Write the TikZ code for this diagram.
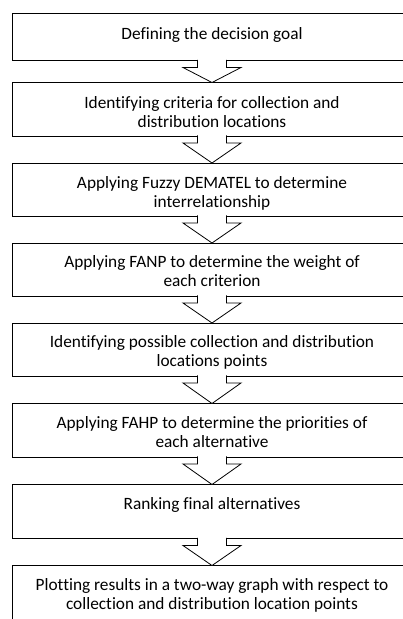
\documentclass[tikz,border=0pt]{standalone}
\usepackage{fontspec}
\setmainfont[Ligatures=NoCommon]{Carlito}
\usetikzlibrary{calc}
\begin{document}
\begin{tikzpicture}[x=1pt,y=-1pt,
  box/.style={draw=black, line width=0.8pt, rectangle, minimum width=400pt, inner sep=0pt, outer sep=0pt},
  lbl/.style={anchor=base, inner sep=0pt, outer sep=0pt, font=\fontsize{17.3pt}{19.4pt}\selectfont},
  blockarrow/.style={draw=black, fill=white, line width=0.8pt, line join=miter}]
\useasboundingbox (0,0) rectangle (403,619);
\fill[white] (0,0) rectangle (403,619);
% boxes
\node[box, minimum height=47pt]   (b1) at (212,37)    {};
\node[box, minimum height=53.5pt] (b2) at (212,109.25) {};
\node[box, minimum height=53pt]   (b3) at (212,189.5) {};
\node[box, minimum height=53pt]   (b4) at (212,269.5) {};
\node[box, minimum height=53pt]   (b5) at (212,349.5) {};
\node[box, minimum height=53.5pt] (b6) at (212,430.25) {};
\node[box, minimum height=54pt]   (b7) at (212,511.5) {};
\node[box, minimum height=80pt]   (b8) at (212,605.5) {};
% texts
\node[lbl] (t1) at ($(b1.north)+(0,25.5)$) {\parbox[t]{395pt}{\centering Defining the decision goal}};
\node[lbl] (t2) at ($(b2.north)+(0,26)$) {\parbox[t]{395pt}{\centering Identifying criteria for collection and\\ distribution locations}};
\begin{scope}
\clip ($(b3.north west)+(0,1)$) rectangle ($(b3.north east)+(0,46.5)$);
\node[lbl] (t3) at ($(b3.north)+(0,25.3)$) {\parbox[t]{395pt}{\centering Applying Fuzzy DEMATEL to determine\\ interrelationship}};
\end{scope}
\node[lbl] (t4) at ($(b4.north)+(0,24.3)$) {\parbox[t]{395pt}{\centering Applying FANP to determine the weight of\\ each criterion}};
\node[lbl] (t5) at ($(b5.north)+(0,24.5)$) {\parbox[t]{395pt}{\centering Identifying possible collection and distribution\\ locations points}};
\node[lbl] (t6) at ($(b6.north)+(0,25)$) {\parbox[t]{395pt}{\centering Applying FAHP to determine the priorities of\\ each alternative}};
\node[lbl] (t7) at ($(b7.north)+(0,24.8)$) {\parbox[t]{395pt}{\centering Ranking final alternatives}};
\node[lbl] (t8) at ($(b8.north)+(0,24.5)$) {\parbox[t]{395pt}{\centering Plotting results in a two-way graph with respect to\\ collection and distribution location points}};
% block arrows
\foreach \a/\b in {b1/b2,b2/b3,b3/b4,b4/b5,b5/b6,b6/b7,b7/b8}{
  \draw[blockarrow] ($(\a.south)+(-14.5,-0.6)$) -- ++(0,7.6) -- ++(-14.5,0) -- (\b.north)
     -- ($(\a.south)+(29,7)$) -- ++(-14.5,0) -- ++(0,-7.6);
}
\end{tikzpicture}
\end{document}
